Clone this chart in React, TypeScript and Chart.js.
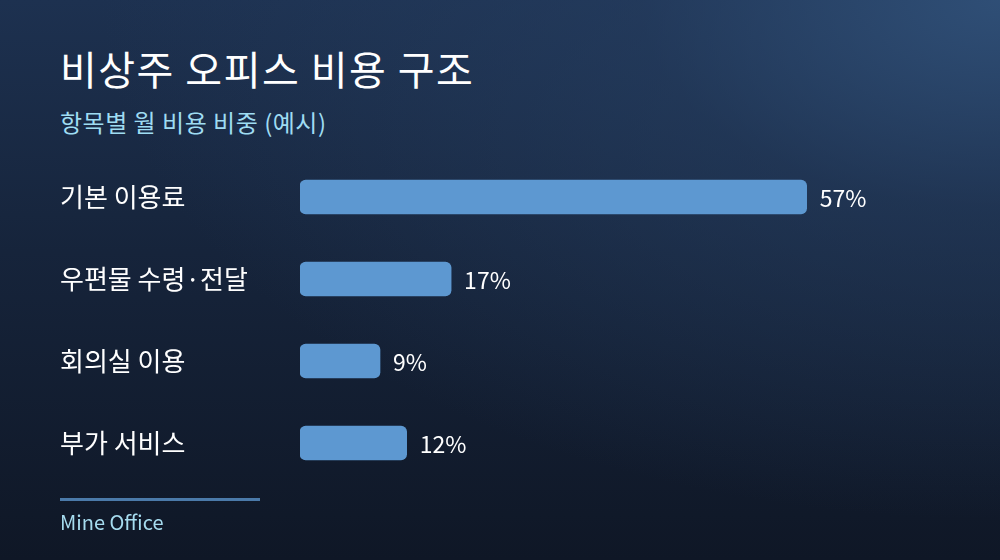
import React, { useEffect, useRef } from 'react';
import { Chart, registerables } from 'chart.js';

Chart.register(...registerables);

const categories = ['기본 이용료', '우편물 수령·전달', '회의실 이용', '부가 서비스'];
const shares = [57, 17, 9, 12];

const FONT = '"Noto Sans CJK KR", "Noto Sans", sans-serif';

// draws "57%" etc. just right of each bar
const valueLabels = {
    id: 'valueLabels',
    afterDatasetsDraw(chart: any) {
        const ctx = chart.ctx;
        const meta = chart.getDatasetMeta(0);
        ctx.save();
        ctx.font = `23px ${FONT}`;
        ctx.fillStyle = '#ffffff';
        ctx.textAlign = 'left';
        ctx.textBaseline = 'middle';
        meta.data.forEach((bar: any, i: number) => {
            ctx.fillText(`${shares[i]}%`, bar.x + 13, bar.y + 1);
        });
        ctx.restore();
    },
};

const App: React.FC = () => {
    const chartRef = useRef<HTMLCanvasElement>(null);
    const chartInstance = useRef<Chart | null>(null);

    useEffect(() => {
        if (!chartRef.current) return;
        if (chartInstance.current) chartInstance.current.destroy();
        const ctx = chartRef.current.getContext('2d');
        if (!ctx) return;
        chartInstance.current = new Chart(ctx, {
            type: 'bar',
            data: {
                labels: categories,
                datasets: [{
                    data: shares,
                    backgroundColor: '#5d98d1',
                    borderRadius: 6,
                    borderSkipped: false,
                    barThickness: 34,
                }],
            },
            options: {
                indexAxis: 'y',
                responsive: false,
                animation: false,
                layout: { padding: { left: 60, right: 60, top: 156, bottom: 76 } },
                scales: {
                    x: {
                        min: 0,
                        max: 72,
                        display: false,
                        grid: { display: false },
                    },
                    y: {
                        grid: { display: false },
                        border: { display: false },
                        ticks: {
                            color: '#ffffff',
                            font: { family: FONT, size: 26 },
                            crossAlign: 'far',
                            padding: 0,
                        },
                        afterFit: (axis: any) => { axis.width = 240; },
                    },
                },
                plugins: {
                    legend: { display: false },
                    tooltip: { enabled: false },
                },
            },
            plugins: [valueLabels],
        });
        return () => {
            if (chartInstance.current) {
                chartInstance.current.destroy();
                chartInstance.current = null;
            }
        };
    }, []);

    return (
        <div style={{
            position: 'absolute', left: 0, top: 0, width: 1000, height: 560, overflow: 'hidden',
            fontFamily: FONT,
            background: 'radial-gradient(ellipse 900px 520px at 100% 0%, rgba(48,80,120,0.95) 0%, rgba(40,66,102,0.5) 40%, rgba(20,32,52,0) 100%), linear-gradient(180deg, #1d3150 0%, #16243b 45%, #0f1726 100%)',
        }}>
            <div style={{ position: 'absolute', left: 60, top: 42, fontSize: 40, lineHeight: '52px', letterSpacing: 1.5, color: '#ffffff', fontWeight: 400 }}>
                비상주 오피스 비용 구조
            </div>
            <div style={{ position: 'absolute', left: 60, top: 105, fontSize: 24, lineHeight: '34px', letterSpacing: 0.5, color: '#9fdcf2' }}>
                항목별 월 비용 비중 (예시)
            </div>
            <canvas ref={chartRef} width={1000} height={560} style={{ position: 'absolute', left: 0, top: 0 }} />
            <div style={{ position: 'absolute', left: 60, top: 498, width: 200, height: 3, background: '#4b7aa9' }} />
            <div style={{ position: 'absolute', left: 60, top: 508, fontSize: 20, lineHeight: '28px', color: '#a6dcef' }}>
                Mine Office
            </div>
        </div>
    );
};

export default App;
